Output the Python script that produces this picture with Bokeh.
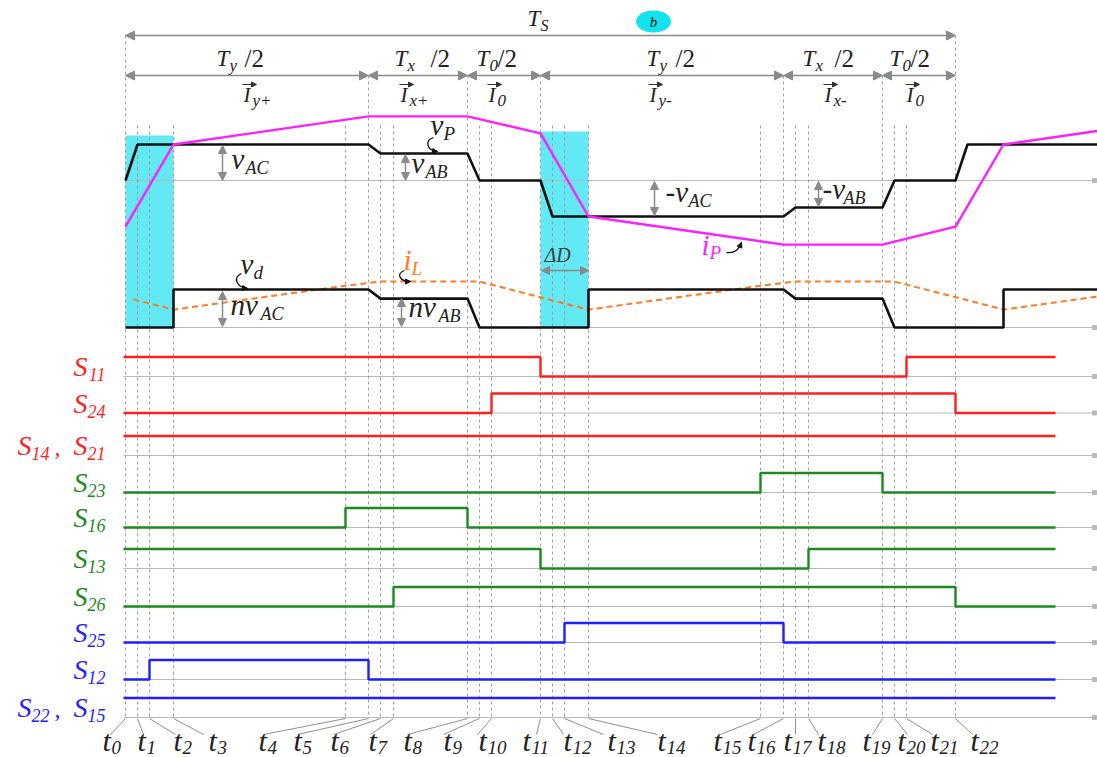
from bokeh.plotting import figure
from bokeh.models import Range1d, Arrow, NormalHead
from bokeh.core.properties import value
from bokeh.embed import file_html
from bokeh.resources import INLINE

# ---------------- data ----------------
# switching instants t0..t22 (one period Ts)
t = [0, 12, 24, 48, 220, 243, 255, 268, 342, 354, 366,
     415, 427, 439, 463, 635, 658, 670, 683, 757, 769, 781, 830]
TS = t[22]
SIG_START = -2
SIG_END = 930
X_END = 972

# primary voltage vP (normalised to vAC) and current iP
vp_time = [t[0], t[1], t[5], t[6], t[8], t[9], t[11], t[12], t[16], t[17],
           t[19], t[20], t[22], TS + t[1], TS + t[5]]
vp_val = [0, 1, 1, 0.75, 0.75, 0, 0, -1, -1, -0.75, -0.75, 0, 0, 1, 1]
ip_time = [t[0], t[3], t[5], t[8], t[11], t[14], t[16], t[19], t[22], TS + t[3], TS + t[5]]
ip_val = [-1.28, 1.0, 1.78, 1.78, 1.31, -1.0, -1.78, -1.78, -1.28, 1.0, 1.78]

# rectified voltage vd and inductor current iL
vd_time = [t[0], t[3], t[3], t[5], t[6], t[8], t[9], t[14], t[14], t[16], t[17],
           t[19], t[20], TS + t[3], TS + t[3], TS + t[5]]
vd_val = [0, 0, 1, 1, 0.76, 0.76, 0, 0, 1, 1, 0.76, 0.76, 0, 0, 1, 1]
il_time = [8, t[3], t[4], t[6], t[9], t[14], t[15], t[17], t[20], TS + t[3], TS + t[4], TS + t[6]]
il_val = [0.74, 0.47, 1.1, 1.21, 1.21, 0.47, 1.1, 1.21, 1.21, 0.47, 1.1, 1.21]

# gate signals (step "after")
sig_labels = [[("S", "11")], [("S", "24")], [("S", "14"), ("S", "21")], [("S", "23")], [("S", "16")],
              [("S", "13")], [("S", "26")], [("S", "25")], [("S", "12")], [("S", "22"), ("S", "15")]]
sig_x = [
    [SIG_START, t[11], t[21], SIG_END],
    [SIG_START, t[10], t[22], SIG_END],
    [SIG_START, SIG_END],
    [SIG_START, t[15], t[19], SIG_END],
    [SIG_START, t[4], t[8], SIG_END],
    [SIG_START, t[11], t[18], SIG_END],
    [SIG_START, t[7], t[22], SIG_END],
    [SIG_START, t[13], t[16], SIG_END],
    [SIG_START, t[2], t[5], SIG_END],
    [SIG_START, SIG_END],
]
sig_y = [
    [1, 0, 1, 1],
    [0, 1, 0, 0],
    [1, 1],
    [0, 1, 0, 0],
    [0, 1, 0, 0],
    [1, 0, 1, 1],
    [0, 1, 0, 0],
    [0, 1, 0, 0],
    [0, 1, 0, 0],
    [1, 1],
]
t_names = [str(i) for i in range(23)]

# ---------------- layout / style ----------------
RED, GREEN, BLUE = "#ff1f1f", "#1c8a1c", "#1f1fff"
MAG, ORANGE, BLACK = "#ff1eff", "#ff7a22", "#111111"
GRID, DASH, ARW, CYAN = "#b8b8b8", "#9d9d9d", "#8a8a8a", "#62e9f3"
TXT = "#222222"
FONT = "Liberation Serif"
row_colors = [RED, RED, RED, GREEN, GREEN, GREEN, GREEN, BLUE, BLUE, BLUE]
row_base = [376, 412.5, 455, 492, 527, 568, 606, 642, 679, 717]
ROW_AMP = 19.5
X0 = 125  # page x of t0

W, H = 1097, 757
p = figure(width=W, height=H, x_range=Range1d(-X0, W - X0), y_range=Range1d(H, 0),
           output_backend="svg", toolbar_location=None, min_border=0,
           x_axis_location=None, y_axis_location=None)
p.grid.visible = False
p.outline_line_color = None
p.background_fill_color = "white"
p.border_fill_color = "white"

ranges = {}


def add_range(name, base, unit):
    b = base / unit
    ranges[name] = Range1d(b - H / unit, b)


add_range("up", 180, 36)
add_range("lo", 327, 38)
for i, b in enumerate(row_base):
    add_range(f"r{i}", b, ROW_AMP)
p.extra_y_ranges = ranges
p.extra_x_ranges = {"px": Range1d(0, W)}


def txt(x, y, s, size, color=TXT, italic=True, align="left", xr="px", baseline="alphabetic"):
    yy = y - 0.38 * size if baseline == "alphabetic" else y
    p.text(x=[x], y=[yy], text=[s], text_font=value(FONT), text_font_size=f"{size}px",
           text_color=color, text_font_style="italic" if italic else "normal",
           text_align=align, text_baseline=baseline, x_range_name=xr)


def arrow(x0, y0, x1, y1, both=True, color=ARW, size=8, xr="px", width=1.5, body=True):
    kw = dict(x_start=x0, y_start=y0, x_end=x1, y_end=y1,
              line_color=color if body else None, line_width=width,
              end=NormalHead(size=size, fill_color=color, line_color=color, line_width=1),
              x_range_name=xr)
    kw["start"] = NormalHead(size=size, fill_color=color, line_color=color, line_width=1) if both else None
    p.add_layout(Arrow(**kw))


# cyan dead-time regions
p.quad(left=[t[0], t[11]], right=[t[3], t[14]], top=[135, 131], bottom=[327, 327],
       fill_color=CYAN, line_color=None)

# gray baselines
for nm in ["up", "lo"] + [f"r{i}" for i in range(10)]:
    x0 = 0 if nm in ("up", "lo") else SIG_START
    p.segment(x0=[x0], y0=[0], x1=[X_END], y1=[0], line_color=GRID, line_width=1.2, y_range_name=nm)
    p.scatter(x=[X_END - 3], y=[0], marker="square", size=4, color=GRID, y_range_name=nm)

# dashed vertical guides
tops = [35 if i in (0, 22) else 75 if i in (5, 8, 11, 16, 19) else 125 for i in range(23)]
p.segment(x0=t, y0=tops, x1=t, y1=[717] * 23, line_color=DASH, line_dash="3 3", line_width=1)

# waveforms
p.line(vp_time, vp_val, y_range_name="up", line_color=BLACK, line_width=2.6)
p.line(ip_time, ip_val, y_range_name="up", line_color=MAG, line_width=2.4)
p.line(il_time, il_val, y_range_name="lo", line_color=ORANGE, line_width=2, line_dash="6 4")
p.line(vd_time, vd_val, y_range_name="lo", line_color=BLACK, line_width=2.6)

# gate signals
for i in range(10):
    p.step(sig_x[i], sig_y[i], mode="after", y_range_name=f"r{i}",
           line_color=row_colors[i], line_width=2.4)

# signal labels (right aligned at x=105)
for i, lab in enumerate(sig_labels):
    b = row_base[i]
    c = row_colors[i]
    last = lab[-1]
    txt(105, b + 5, last[1], 18, c, align="right")
    txt(87, b + 1, last[0], 28, c, align="right")
    if len(lab) > 1:
        first = lab[0]
        txt(60, b + 1, ",", 24, c, align="right")
        txt(49, b + 5, first[1], 18, c, align="right")
        txt(31, b + 1, first[0], 28, c, align="right")

# time labels at bottom (x in time units)
tlab_x = [-23, 12, 48, 83, 133, 168, 205, 243, 278, 318, 353, 397, 438, 482, 532,
          588, 622, 658, 692, 737, 772, 805, 845]
lead_x = [-15, 18, 50, 78, 138, 172, 208, 245, 282, 318, 352, 411, 438, 478, 532,
          595, 628, 670, 693, 747, 782, 807, 847]
p.segment(x0=t, y0=[718] * 23, x1=lead_x, y1=[734] * 23, line_color="#8f8f8f", line_width=1)
for i in range(23):
    txt(tlab_x[i], 751, "t", 30, TXT, xr="default")
    txt(tlab_x[i] + 9, 754, t_names[i], 19, TXT, xr="default")

# period arrows
arrow(t[0], 35, t[22], 35, xr="default", size=9)
bounds = [t[0], t[5], t[8], t[11], t[16], t[19], t[22]]
for a, b in zip(bounds[:-1], bounds[1:]):
    arrow(a, 75, b, 75, xr="default", size=9)

txt(527, 27, "T", 23)
txt(540, 31, "S", 16)
p.ellipse(x=[653], y=[21], width=35, height=22, width_units="screen", height_units="screen",
          fill_color="#12e3ee", line_color=None, x_range_name="px")
txt(653, 21, "b", 15, BLACK, align="center", baseline="middle")

for (tx, sub, sl) in [(216, "y", 244), (394, "x", 430), (476, "0", 497),
                      (646, "y", 675), (802, "x", 834), (889, "0", 910)]:
    txt(tx, 67, "T", 23)
    txt(tx + 13, 71, sub, 17)
    txt(sl, 67, "/2", 25, italic=False)

for (ix, sub) in [(243, "y+"), (400, "x+"), (488, "0"), (649, "y-"), (824, "x-"), (906, "0")]:
    txt(ix, 102, "I", 21)
    txt(ix + 9, 106, sub, 17)
    arrow(ix - 1, 84, ix + 13, 84, both=False, color="#333333", size=5, width=1)

# waveform annotations
arrow(222, 145, 222, 180)
arrow(405, 154, 405, 180)
arrow(654, 181, 654, 215)
arrow(818, 181, 818, 206)
arrow(222, 291, 222, 326)
arrow(401, 298, 401, 326)
arrow(541, 270, 588, 270)

txt(231, 170, "v", 29)
txt(245, 174, "AC", 18)
txt(411, 174, "v", 29)
txt(425, 178, "AB", 18)
txt(665, 203, "-v", 29)
txt(688, 207, "AC", 18)
txt(822, 200, "-v", 29)
txt(843, 204, "AB", 18)
txt(430, 136, "v", 29)
txt(443, 140, "P", 19)
txt(240, 275, "v", 29)
txt(253, 279, "d", 19)
txt(403, 271, "i", 29, ORANGE)
txt(411, 275, "L", 19, ORANGE)
txt(701, 256, "i", 29, MAG)
txt(709, 259, "P", 19, MAG)
txt(230, 316, "nv", 29)
txt(260, 320, "AC", 18)
txt(408, 318, "nv", 29)
txt(438, 322, "AB", 18)
txt(544, 262, "\u0394D", 20, "#404040")

# curly pointer arrows
curls = [
    (433, 137, 424, 140, 426, 150, 437, 151),
    (241, 273, 232, 277, 236, 287, 247, 288),
    (404, 270, 395, 273, 399, 281, 410, 281),
    (726, 252, 735, 253, 738, 249, 741, 242),
]
for (x0, y0, cx0, cy0, cx1, cy1, x1, y1) in curls:
    p.bezier(x0=[x0], y0=[y0], x1=[x1], y1=[y1], cx0=[cx0], cy0=[cy0], cx1=[cx1], cy1=[cy1],
             line_color=BLACK, line_width=1.3, x_range_name="px")
    arrow(cx1 + (x1 - cx1) * 0.5, cy1 + (y1 - cy1) * 0.5, x1, y1, both=False, color=BLACK,
          size=5, width=1, body=False)

open("out.html", "w").write(file_html(p, INLINE))
